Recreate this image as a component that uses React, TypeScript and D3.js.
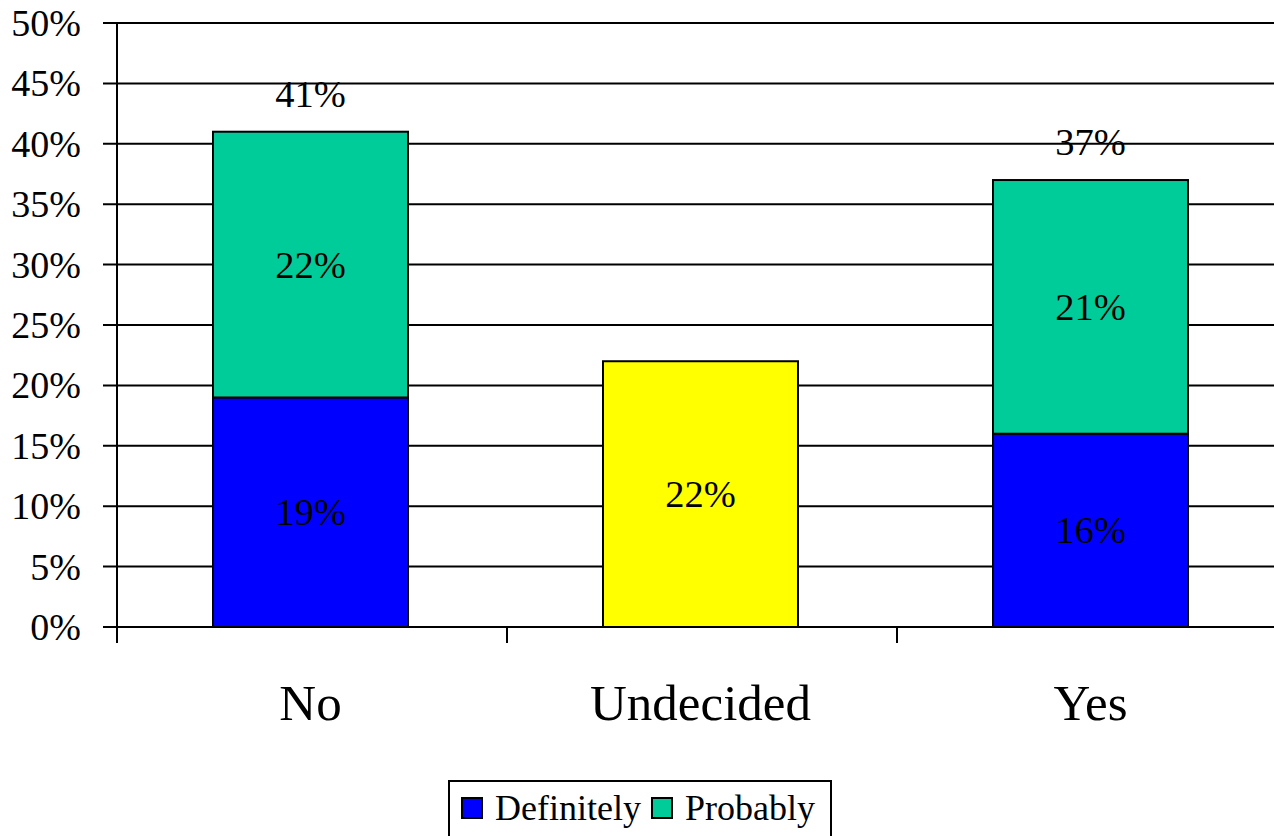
import { useRef, useEffect } from 'react'
import * as d3 from 'd3'

const categories = ['No', 'Undecided', 'Yes']
const definitely = [19, 0, 16]
const undecided = [0, 22, 0]
const probably = [22, 0, 21]
const totals = [41, null, 37]
const yTicks = [0, 5, 10, 15, 20, 25, 30, 35, 40, 45, 50]
const legendItems = [
	{ name: 'Definitely', color: '#0000ff' },
	{ name: 'Probably', color: '#00cc99' },
]

const App = () => {
	const svgRef = useRef<SVGSVGElement | null>(null)

	useEffect(() => {
		if (!svgRef.current) return

		const width = 1274
		const height = 836
		const margin = { top: 23, left: 117, bottom: 627 }
		const font = '"Liberation Serif", "Times New Roman", serif'

		const svg = d3.select(svgRef.current)
		svg.selectAll('*').remove()
		svg.attr('width', width).attr('height', height)

		const x = d3
			.scaleBand()
			.domain(categories)
			.range([margin.left - 1.5, margin.left - 1.5 + 390 * 3])
			.paddingInner(0.5)
			.paddingOuter(0.25)

		const band = d3.scaleBand().domain(categories).range([margin.left, margin.left + 390 * 3])

		const y = d3.scaleLinear().domain([0, 50]).range([margin.bottom, margin.top])

		// gridlines + y ticks
		const grid = svg.append('g')
		grid
			.selectAll('line')
			.data(yTicks)
			.enter()
			.append('line')
			.attr('x1', margin.left - 14)
			.attr('x2', width + 20)
			.attr('y1', (d) => y(d))
			.attr('y2', (d) => y(d))
			.attr('stroke', '#000')
			.attr('stroke-width', 2)

		grid
			.selectAll('text')
			.data(yTicks)
			.enter()
			.append('text')
			.attr('x', 81)
			.attr('y', (d) => y(d))
			.attr('dy', '0.34em')
			.attr('text-anchor', 'end')
			.attr('font-family', font)
			.attr('font-size', 38)
			.text((d) => `${d}%`)

		// y axis line
		svg
			.append('line')
			.attr('x1', margin.left)
			.attr('x2', margin.left)
			.attr('y1', margin.top)
			.attr('y2', margin.bottom + 16)
			.attr('stroke', '#000')
			.attr('stroke-width', 2)

		// x ticks
		svg
			.append('g')
			.selectAll('line')
			.data(categories.slice(1))
			.enter()
			.append('line')
			.attr('x1', (d) => band(d)!)
			.attr('x2', (d) => band(d)!)
			.attr('y1', margin.bottom)
			.attr('y2', margin.bottom + 16)
			.attr('stroke', '#000')
			.attr('stroke-width', 2)

		const segments = [
			{ values: definitely, base: categories.map(() => 0), color: '#0000ff' },
			{ values: undecided, base: categories.map(() => 0), color: '#ffff00' },
			{ values: probably, base: definitely, color: '#00cc99' },
		]

		segments.forEach((s) => {
			const data = categories
				.map((c, i) => ({ c, v: s.values[i], b: s.base[i] }))
				.filter((d) => d.v > 0)
			const g = svg.append('g')
			g.selectAll('rect')
				.data(data)
				.enter()
				.append('rect')
				.attr('x', (d) => x(d.c)!)
				.attr('width', x.bandwidth())
				.attr('y', (d) => y(d.b + d.v))
				.attr('height', (d) => y(d.b) - y(d.b + d.v))
				.attr('fill', s.color)
				.attr('stroke', '#000')
				.attr('stroke-width', 2)
			g.selectAll('text')
				.data(data)
				.enter()
				.append('text')
				.attr('x', (d) => x(d.c)! + x.bandwidth() / 2)
				.attr('y', (d) => y(d.b + d.v / 2))
				.attr('dy', '0.34em')
				.attr('text-anchor', 'middle')
				.attr('font-family', font)
				.attr('font-size', 38.5)
				.text((d) => `${d.v}%`)
		})

		// totals
		svg
			.append('g')
			.selectAll('text')
			.data(categories.map((c, i) => ({ c, t: totals[i] })).filter((d) => d.t !== null))
			.enter()
			.append('text')
			.attr('x', (d) => x(d.c)! + x.bandwidth() / 2)
			.attr('y', (d) => y(d.t!) - 38)
			.attr('dy', '0.34em')
			.attr('text-anchor', 'middle')
			.attr('font-family', font)
			.attr('font-size', 38.5)
			.text((d) => `${d.t}%`)

		// category labels
		svg
			.append('g')
			.selectAll('text')
			.data(categories)
			.enter()
			.append('text')
			.attr('x', (d) => x(d)! + x.bandwidth() / 2)
			.attr('y', 703)
			.attr('dy', '0.34em')
			.attr('text-anchor', 'middle')
			.attr('font-family', font)
			.attr('font-size', 51)
			.text((d) => d)

		// legend
		const legend = svg.append('g')
		legend
			.append('rect')
			.attr('x', 449)
			.attr('y', 781)
			.attr('width', 382)
			.attr('height', 80)
			.attr('fill', '#fff')
			.attr('stroke', '#000')
			.attr('stroke-width', 2)

		const offsets = [462, 652]
		legendItems.forEach((item, i) => {
			legend
				.append('rect')
				.attr('x', offsets[i])
				.attr('y', 798)
				.attr('width', 20)
				.attr('height', 20)
				.attr('fill', item.color)
				.attr('stroke', '#000')
				.attr('stroke-width', 2)
			legend
				.append('text')
				.attr('x', offsets[i] + 33)
				.attr('y', 808)
				.attr('dy', '0.34em')
				.attr('font-family', font)
				.attr('font-size', 36)
				.text(item.name)
		})
	}, [])

	return (
		<div style={{ position: 'absolute', left: 0, top: 0 }}>
			<svg ref={svgRef} style={{ display: 'block', background: '#fff' }}></svg>
		</div>
	)
}

export default App
